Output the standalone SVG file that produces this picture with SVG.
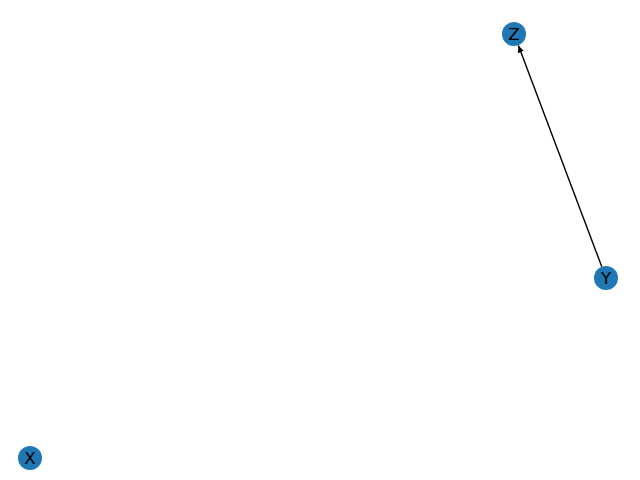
<svg xmlns="http://www.w3.org/2000/svg" width="640" height="480" viewBox="0 0 640 480">
<style>
.node circle{fill:#1f77b4;}
.node text{font-family:"DejaVu Sans",sans-serif;font-size:16.7px;fill:#000;text-anchor:middle;dominant-baseline:central;}
.edge{stroke:#000;stroke-width:1.4;fill:none;}
</style>
<defs>
<marker id="arr" markerUnits="userSpaceOnUse" markerWidth="10" markerHeight="10" viewBox="0 -5 10 10" refX="7" refY="0" orient="auto">
<path d="M0,-3.2 L7,0 L0,3.2 Z" fill="#000"/>
</marker>
</defs>
<rect width="640" height="480" fill="#fff"/>
<g id="connectors">
<line class="edge" x1="601.8" y1="266.8" x2="518.4" y2="45.5" marker-end="url(#arr)"/>
</g>
<g id="node-Z" class="node"><circle cx="514" cy="34" r="12"/><text x="514" y="34">Z</text></g>
<g id="node-Y" class="node"><circle cx="606" cy="278" r="12"/><text x="606" y="278">Y</text></g>
<g id="node-X" class="node"><circle cx="30" cy="458" r="12"/><text x="30" y="458">X</text></g>
</svg>
